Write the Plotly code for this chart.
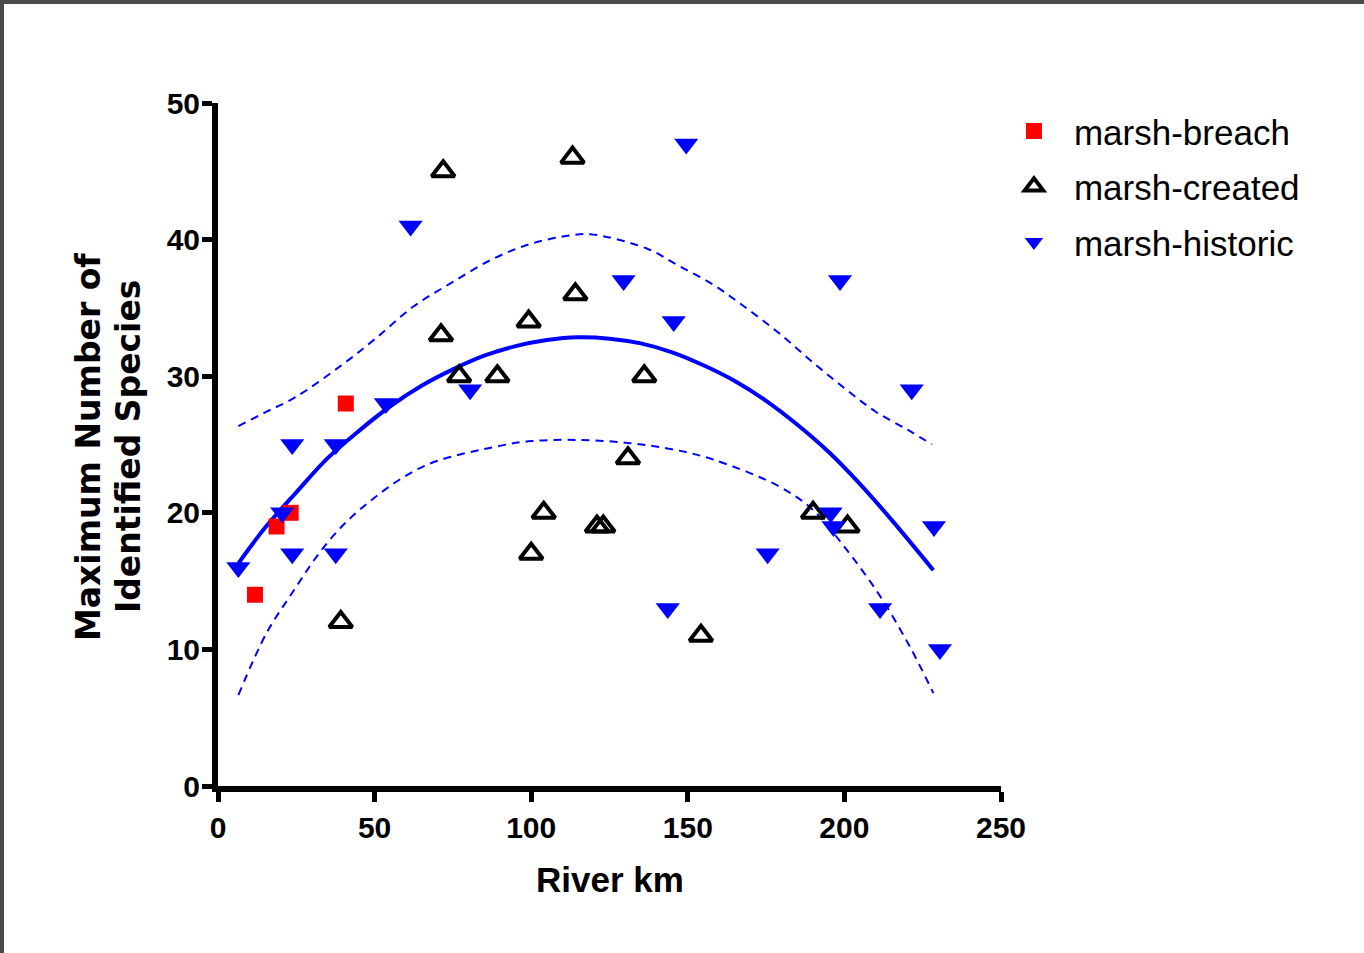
import plotly.graph_objects as go

# ---- data ----
breach_x = [11.8, 18.7, 23.2, 40.8]
breach_y = [14, 19, 20, 28]

created_x = [39.2, 71.2, 71.9, 77.0, 89.2, 99.2, 100.0, 104.0, 113.2, 114.1,
             121.0, 123.0, 130.9, 136.1, 154.2, 190.0, 201.0]
created_y = [12, 33, 45, 30, 30, 34, 17, 20, 46, 36,
             19, 19, 24, 30, 11, 20, 19]

historic_x = [6.5, 20.5, 23.7, 23.7, 37.6, 37.6, 53.6, 61.5, 80.5, 129.5,
              143.6, 145.5, 149.5, 175.5, 195.6, 196.5, 198.6, 211.4, 221.5,
              228.6, 230.5]
historic_y = [16, 20, 25, 17, 25, 17, 28, 41, 29, 37,
              13, 34, 47, 17, 20, 19, 37, 13, 29,
              19, 10]

# fitted curve and its band
fit_x = [6.5, 15, 25, 35, 45, 55, 65, 75, 85, 95, 105, 115, 125, 135, 145, 155,
         165, 175, 185, 195, 205, 215, 228.4]
fit_y = [16.3, 18.9, 21.5, 24.0, 26.0, 27.8, 29.3, 30.5, 31.5, 32.2, 32.65, 32.85,
         32.75, 32.4, 31.75, 30.8, 29.65, 28.2, 26.45, 24.45, 22.1, 19.5, 15.8]

upper_x = [6.5, 15.5, 25, 40, 50, 62.4, 75, 87.9, 100, 112.4, 118.8, 136.9, 147,
           158.1, 168, 179.4, 190, 200.7, 210, 220, 228.0]
upper_y = [26.35, 27.4, 28.5, 30.9, 32.7, 35.1, 36.9, 38.6, 39.7, 40.3, 40.4, 39.35, 38.1,
           36.7, 35.1, 33.1, 31.0, 29.0, 27.4, 26.1, 25.0]

lower_x = [6.5, 15.5, 23, 34.7, 46.4, 65.6, 90, 100, 115.6, 131.5, 145, 158.1, 179.4,
           190, 200.7, 211.4, 220.9, 228.4]
lower_y = [6.66, 11.2, 13.9, 17.75, 20.45, 23.4, 24.9, 25.25, 25.33, 25.1, 24.65, 23.9, 21.9,
           20.2, 17.3, 13.9, 10.2, 6.8]

x_ticks = [0, 50, 100, 150, 200, 250]
y_ticks = [0, 10, 20, 30, 40, 50]

SANS = "Liberation Sans, Arial, sans-serif"
BLUE = "#0000FF"

fig = go.Figure()

dash_line = dict(color=BLUE, width=2, dash="8px,6px", shape="spline")
fig.add_trace(go.Scatter(x=upper_x, y=upper_y, mode="lines", line=dash_line,
                         showlegend=False, hoverinfo="skip"))
fig.add_trace(go.Scatter(x=lower_x, y=lower_y, mode="lines", line=dash_line,
                         showlegend=False, hoverinfo="skip"))
fig.add_trace(go.Scatter(x=fit_x, y=fit_y, mode="lines", line=dict(color=BLUE, width=4, shape="spline"),
                         showlegend=False, hoverinfo="skip"))

fig.add_trace(go.Scatter(x=breach_x, y=breach_y, mode="markers", name="marsh-breach", legendgroup="a",
                         marker=dict(symbol="square", size=16, color="#FF0000", line=dict(width=0))))
fig.add_trace(go.Scatter(x=created_x, y=created_y, mode="markers", name="marsh-created", legendgroup="b",
                         marker=dict(symbol="triangle-up-open", size=20, color="black",
                                     line=dict(width=4, color="black"))))
fig.add_trace(go.Scatter(x=historic_x, y=historic_y, mode="markers", name="marsh-historic", legendgroup="c",
                         marker=dict(symbol="triangle-down", size=21, color=BLUE, line=dict(width=0))))

axis_common = dict(showgrid=False, zeroline=False, showline=True, linewidth=6, linecolor="black",
                   ticks="outside", ticklen=10, tickwidth=5, tickcolor="black",
                   tickfont=dict(family=SANS, size=30, color="black", weight="bold"))

fig.update_xaxes(range=[0, 250], tickvals=x_ticks, ticktext=[str(v) for v in x_ticks], **axis_common)
fig.update_yaxes(range=[0, 50], tickvals=y_ticks, ticktext=[str(v) for v in y_ticks],
                 ticklabelstandoff=-4, **axis_common)

# axis titles as annotations
fig.add_annotation(text="River km", xref="paper", yref="paper", x=0.5, y=-0.137,
                   xanchor="center", yanchor="middle", showarrow=False,
                   font=dict(family=SANS, size=35, color="black", weight="bold"))
fig.add_annotation(text="Maximum Number of", xref="paper", yref="paper", x=-0.166, y=0.4963,
                   xanchor="center", yanchor="middle", showarrow=False, textangle=-90,
                   font=dict(family="DejaVu Sans", size=33, color="black", weight="bold"))
fig.add_annotation(text="Identified Species", xref="paper", yref="paper", x=-0.1149, y=0.4963,
                   xanchor="center", yanchor="middle", showarrow=False, textangle=-90,
                   font=dict(family="DejaVu Sans", size=33, color="black", weight="bold"))

# dark frame at top and left edges
fig.add_shape(type="rect", xref="paper", yref="paper", x0=-0.3, x1=1.6, y0=(786 - 4) / 683, y1=1.2,
              fillcolor="#4a4a4a", line=dict(width=0), layer="above")
fig.add_shape(type="rect", xref="paper", yref="paper", x0=-0.3, x1=(4 - 218) / 783, y0=-0.3, y1=1.2,
              fillcolor="#4a4a4a", line=dict(width=0), layer="above")

fig.update_layout(
    width=1364, height=953,
    margin=dict(l=218, r=363, t=103, b=167),
    paper_bgcolor="white", plot_bgcolor="white",
    showlegend=True,
    legend=dict(x=0.991, y=1.002, xanchor="left", yanchor="top",
                font=dict(family=SANS, size=35, color="black"),
                itemwidth=70, tracegroupgap=7, bgcolor="rgba(0,0,0,0)", borderwidth=0),
)

fig.write_html("out.html")
